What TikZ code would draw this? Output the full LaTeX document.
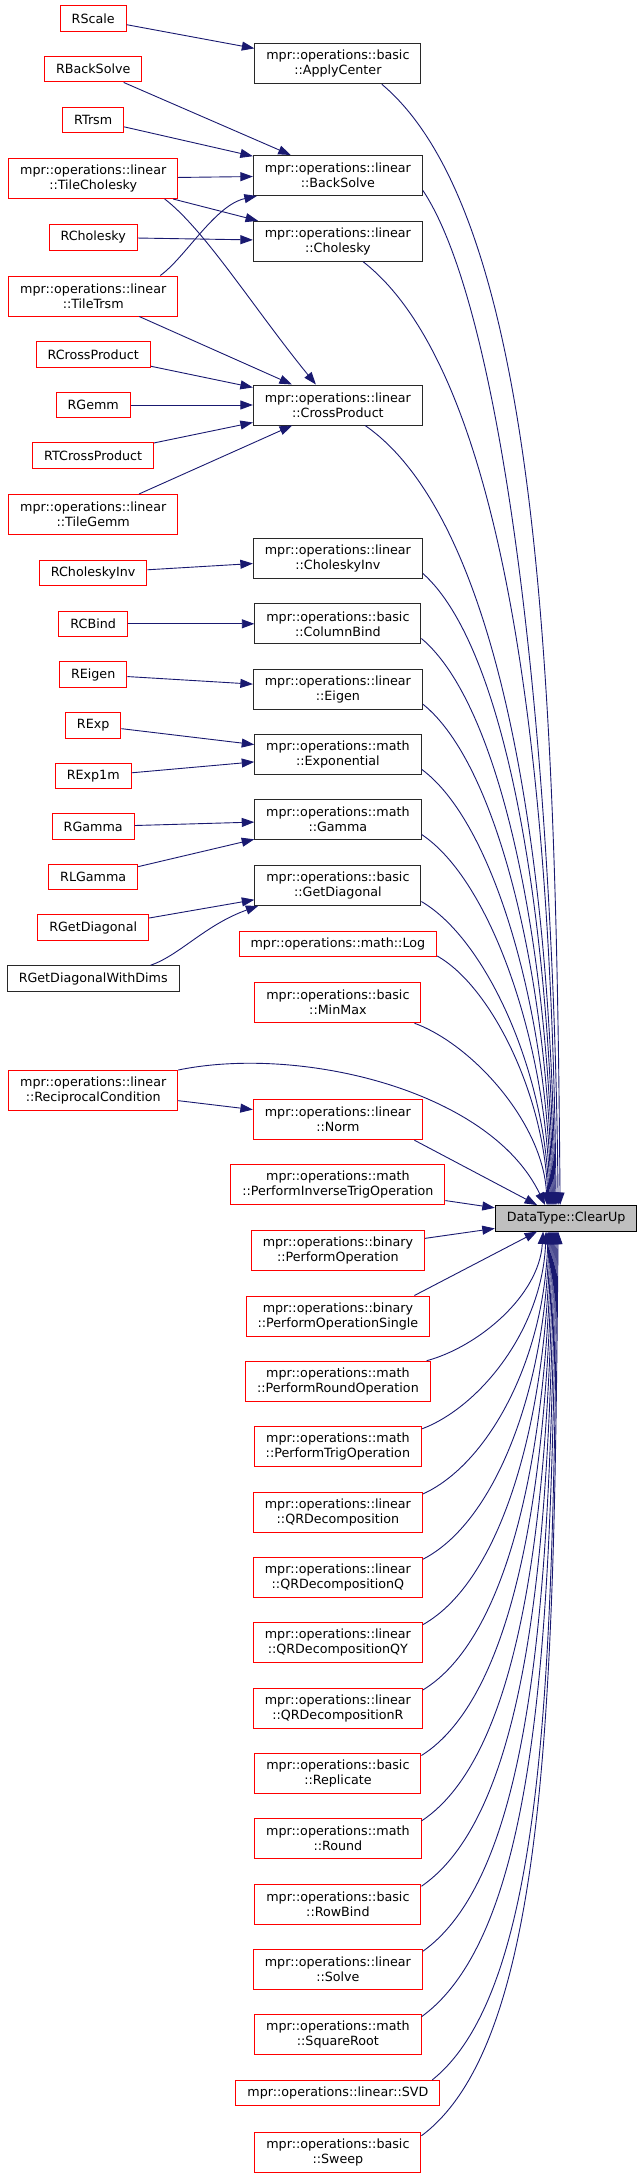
\documentclass[tikz,border=0pt]{standalone}
\usepackage{fontspec}
\setmainfont{DejaVu Sans}
\usetikzlibrary{arrows.meta}
\definecolor{edgeblue}{RGB}{25,25,112}
\definecolor{docgray}{RGB}{40,40,40}
\definecolor{rootfill}{RGB}{191,191,191}
\tikzset{
  fn/.style={draw, line width=1pt, align=center, inner xsep=11.5pt, inner ysep=0pt, minimum height=25.5pt, font=\fontsize{12.7}{15}\selectfont},
  fn2/.style={fn, minimum height=40pt},
  docbox/.style={draw=docgray},
  redbox/.style={draw=red},
  rootbox/.style={fn, draw=black, fill=rootfill},
  call/.style={->, draw=edgeblue, line width=0.9pt}
}
\begin{document}
\begin{tikzpicture}[x=1pt, y=-1pt, >={Triangle[length=12.5pt,width=9pt]}]
\useasboundingbox (0,0) rectangle (643,2178);
\node[fn, redbox] (rscale) at (93.2,18.5) {RScale};
\node[fn, redbox] (rbacksolve) at (93.2,69.2) {RBackSolve};
\node[fn, redbox] (rtrsm) at (93.2,119.8) {RTrsm};
\node[fn2, redbox] (tilecholesky) at (93.2,178.5) {mpr::operations::linear\\::TileCholesky};
\node[fn, redbox] (rcholesky) at (93.2,237.3) {RCholesky};
\node[fn2, redbox] (tiletrsm) at (93.2,296) {mpr::operations::linear\\::TileTrsm};
\node[fn, redbox] (rcrossproduct) at (93.2,354.3) {RCrossProduct};
\node[fn, redbox] (rgemm) at (93.2,405) {RGemm};
\node[fn, redbox] (rtcrossproduct) at (93.2,455.5) {RTCrossProduct};
\node[fn2, redbox] (tilegemm) at (93.2,514.5) {mpr::operations::linear\\::TileGemm};
\node[fn, redbox] (rcholeskyinv) at (93.2,573) {RCholeskyInv};
\node[fn, redbox] (rcbind) at (93.2,623.8) {RCBind};
\node[fn, redbox] (reigen) at (93.2,674.5) {REigen};
\node[fn, redbox] (rexp) at (93.2,725.3) {RExp};
\node[fn, redbox] (rexpm) at (93.2,776.2) {RExp1m};
\node[fn, redbox] (rgamma) at (93.2,826.7) {RGamma};
\node[fn, redbox] (rlgamma) at (93.2,877.2) {RLGamma};
\node[fn, redbox] (rgetdiag) at (93.2,927.7) {RGetDiagonal};
\node[fn, docbox] (rgetdiagdims) at (93.2,978.5) {RGetDiagonalWithDims};
\node[fn2, redbox] (reccond) at (93.2,1090.5) {mpr::operations::linear\\::ReciprocalCondition};

\node[fn2, docbox] (applycenter) at (337.9,63.8) {mpr::operations::basic\\::ApplyCenter};
\node[fn2, docbox] (backsolve) at (337.9,175.5) {mpr::operations::linear\\::BackSolve};
\node[fn2, docbox] (cholesky) at (337.9,241.3) {mpr::operations::linear\\::Cholesky};
\node[fn2, docbox] (crossproduct) at (337.9,405) {mpr::operations::linear\\::CrossProduct};
\node[fn2, docbox] (choleskyinv) at (337.9,558.5) {mpr::operations::linear\\::CholeskyInv};
\node[fn2, docbox] (columnbind) at (337.9,623.8) {mpr::operations::basic\\::ColumnBind};
\node[fn2, docbox] (eigen) at (337.9,689.2) {mpr::operations::linear\\::Eigen};
\node[fn2, docbox] (exponential) at (337.9,754.5) {mpr::operations::math\\::Exponential};
\node[fn2, docbox] (gammafn) at (337.9,819.7) {mpr::operations::math\\::Gamma};
\node[fn2, docbox] (getdiagonal) at (337.9,885.3) {mpr::operations::basic\\::GetDiagonal};
\node[fn, redbox] (logfn) at (337.9,943.8) {mpr::operations::math::Log};
\node[fn2, redbox] (minmax) at (337.9,1002.7) {mpr::operations::basic\\::MinMax};
\node[fn2, redbox] (norm) at (337.9,1119.7) {mpr::operations::linear\\::Norm};
\node[fn2, redbox] (invtrigop) at (337.9,1184.8) {mpr::operations::math\\::PerformInverseTrigOperation};
\node[fn2, redbox] (performop) at (337.9,1250.7) {mpr::operations::binary\\::PerformOperation};
\node[fn2, redbox] (performopsingle) at (337.9,1316) {mpr::operations::binary\\::PerformOperationSingle};
\node[fn2, redbox] (roundop) at (337.9,1381.2) {mpr::operations::math\\::PerformRoundOperation};
\node[fn2, redbox] (trigop) at (337.9,1446.7) {mpr::operations::math\\::PerformTrigOperation};
\node[fn2, redbox] (qrdecomp) at (337.9,1512) {mpr::operations::linear\\::QRDecomposition};
\node[fn2, redbox] (qrdecompq) at (337.9,1577.3) {mpr::operations::linear\\::QRDecompositionQ};
\node[fn2, redbox] (qrdecompqy) at (337.9,1642.7) {mpr::operations::linear\\::QRDecompositionQY};
\node[fn2, redbox] (qrdecompr) at (337.9,1708) {mpr::operations::linear\\::QRDecompositionR};
\node[fn2, redbox] (replicate) at (337.9,1773.3) {mpr::operations::basic\\::Replicate};
\node[fn2, redbox] (roundfn) at (337.9,1838.7) {mpr::operations::math\\::Round};
\node[fn2, redbox] (rowbind) at (337.9,1904) {mpr::operations::basic\\::RowBind};
\node[fn2, redbox] (solve) at (337.9,1969.3) {mpr::operations::linear\\::Solve};
\node[fn2, redbox] (squareroot) at (337.9,2034.5) {mpr::operations::math\\::SquareRoot};
\node[fn, redbox] (svd) at (337.9,2093.2) {mpr::operations::linear::SVD};
\node[fn2, redbox] (sweep) at (337.9,2152) {mpr::operations::basic\\::Sweep};

\node[rootbox] (clearup) at (566.1,1218.3) {DataType::ClearUp};

\draw[call] (rscale) -- (applycenter);
\draw[call] (rbacksolve) -- (backsolve);
\draw[call] (rtrsm) -- (backsolve);
\draw[call] (tilecholesky) -- (backsolve);
\draw[call] (tilecholesky) -- (cholesky);
\draw[call] (tilecholesky.-16) .. controls (205,230) and (255,310) .. ([xshift=-22pt]crossproduct.north);
\draw[call] (rcholesky) -- (cholesky);
\draw[call] (tiletrsm.17) .. controls (185,258) and (215,205) .. ([xshift=4pt]backsolve.south west);
\draw[call] (tiletrsm) -- (crossproduct);
\draw[call] (rcrossproduct) -- (crossproduct);
\draw[call] (rgemm) -- (crossproduct);
\draw[call] (rtcrossproduct) -- (crossproduct);
\draw[call] (tilegemm) -- (crossproduct);
\draw[call] (rcholeskyinv) -- (choleskyinv);
\draw[call] (rcbind) -- (columnbind);
\draw[call] (reigen) -- (eigen);
\draw[call] (rexp) -- (exponential);
\draw[call] (rexpm) -- (exponential);
\draw[call] (rgamma) -- (gammafn);
\draw[call] (rlgamma) -- (gammafn);
\draw[call] (rgetdiag) -- (getdiagonal);
\draw[call] (rgetdiagdims.13) .. controls (180,955) and (205,925) .. ([xshift=4pt]getdiagonal.south west);
\draw[call] (reccond) -- (norm);
\draw[call] (reccond.north east) .. controls (300,1045) and (490,1090) .. ([xshift=-21pt]clearup.north);

\draw[call] (applycenter.-25) .. controls (542,219) and (556,701) .. ([xshift=-6pt]clearup.north);
\draw[call] (backsolve.-10) .. controls (504,312.5) and (554,748.8) .. ([xshift=-8pt]clearup.north);
\draw[call] (cholesky.-39) .. controls (507.8,374.6) and (552,780.6) .. ([xshift=-10pt]clearup.north);
\draw[call] (crossproduct.-37) .. controls (499.4,518.7) and (551,854.5) .. ([xshift=-11pt]clearup.north);
\draw[call] (choleskyinv.-10) .. controls (507.4,649) and (550,921) .. ([xshift=-12pt]clearup.north);
\draw[call] (columnbind.-10) .. controls (502,706) and (549,950) .. ([xshift=-13pt]clearup.north);
\draw[call] (eigen.-10) .. controls (498.7,765) and (548,980.3) .. ([xshift=-14pt]clearup.north);
\draw[call] (exponential.-10) .. controls (493.7,822.3) and (547,1009.5) .. ([xshift=-15pt]clearup.north);
\draw[call] (gammafn.-10) .. controls (489.6,879.5) and (546,1038.8) .. ([xshift=-16pt]clearup.north);
\draw[call] (getdiagonal.-11) .. controls (485.4,939) and (545,1069.2) .. ([xshift=-17pt]clearup.north);
\draw[call] (logfn.-7) .. controls (490.5,986) and (544,1093.2) .. ([xshift=-18pt]clearup.north);
\draw[call] (minmax.-15) .. controls (472.8,1044.6) and (543,1123.2) .. ([xshift=-19pt]clearup.north);
\draw[call] (norm.-15) -- ([xshift=-29pt]clearup.north);
\draw[call] (invtrigop) -- (clearup);
\draw[call] (performop) -- (clearup);
\draw[call] (performopsingle.15) -- ([xshift=-29pt]clearup.south);
\draw[call] (roundop.13) .. controls (477.8,1346.9) and (539,1296.1) .. ([xshift=-23pt]clearup.south);
\draw[call] (trigop.12) .. controls (479.6,1407) and (542,1329.9) .. ([xshift=-20pt]clearup.south);
\draw[call] (qrdecomp.12) .. controls (486.7,1465.1) and (544,1362.5) .. ([xshift=-18pt]clearup.south);
\draw[call] (qrdecompq.12) .. controls (493.1,1523.2) and (545,1395.2) .. ([xshift=-17pt]clearup.south);
\draw[call] (qrdecompqy.12) .. controls (499.7,1581.4) and (546,1427.9) .. ([xshift=-16pt]clearup.south);
\draw[call] (qrdecompr.12) .. controls (506.1,1639.5) and (547,1460.5) .. ([xshift=-15pt]clearup.south);
\draw[call] (replicate.12) .. controls (512.2,1697.9) and (548,1493.3) .. ([xshift=-14pt]clearup.south);
\draw[call] (roundfn.12) .. controls (519.1,1756.1) and (549,1526) .. ([xshift=-13pt]clearup.south);
\draw[call] (rowbind.12) .. controls (526,1814.2) and (550,1558.7) .. ([xshift=-12pt]clearup.south);
\draw[call] (solve.12) .. controls (533.4,1872) and (551,1591.1) .. ([xshift=-11pt]clearup.south);
\draw[call] (squareroot.12) .. controls (540.2,1930.4) and (552,1623.9) .. ([xshift=-10pt]clearup.south);
\draw[call] (svd.8) .. controls (548.2,1987) and (553,1655.7) .. ([xshift=-9pt]clearup.south);
\draw[call] (sweep.11) .. controls (550,2040) and (554,1683.4) .. ([xshift=-8pt]clearup.south);
\end{tikzpicture}
\end{document}
